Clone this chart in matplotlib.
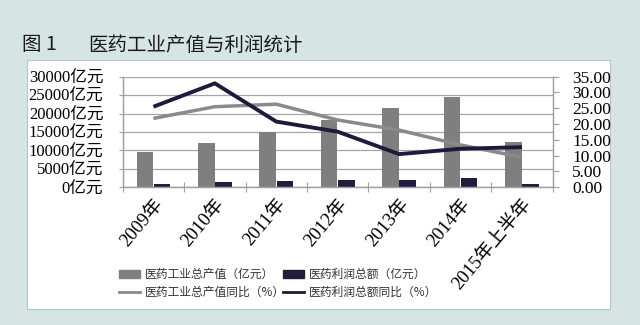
import numpy as np
import matplotlib
matplotlib.use("Agg")
import matplotlib.pyplot as plt
from matplotlib.patches import Rectangle, Patch
from matplotlib.lines import Line2D
from matplotlib.ticker import FuncFormatter

plt.rcParams['font.family'] = ['Liberation Serif', 'Noto Sans CJK SC']

years = ['2009年', '2010年', '2011年', '2012年', '2013年', '2014年', '2015年上半年']
output_value = [9500, 11930, 15000, 18250, 21420, 24400, 12370]   # 亿元
profit_total = [980, 1360, 1710, 2060, 2100, 2440, 1000]          # 亿元
output_growth = [21.8, 25.5, 26.3, 21.3, 18.1, 13.4, 9.5]         # %
profit_growth = [25.5, 32.9, 20.8, 17.6, 10.5, 12.2, 12.7]        # %

GRAY_BAR = '#7f7f7f'
DARK_BAR = '#231c3f'
GRAY_LINE = '#8a8a8a'
DARK_LINE = '#1d1b3b'
AXIS_COLOR = '#a0a0a0'

W, H = 640, 325
fig = plt.figure(figsize=(W / 100, H / 100), dpi=100, facecolor='#d6e4e4')

# white card behind the chart
fig.patches.append(Rectangle((27 / W, 1 - 309 / H), (610 - 27) / W, (309 - 60) / H,
                             transform=fig.transFigure, facecolor='white',
                             edgecolor='#b8c4c4', lw=0.8, zorder=-5))

cjk = ['Noto Sans CJK SC']
fig.text(22 / W, 1 - 45 / H, '图 1', fontsize=14, va='center', family=cjk, color='#1a1a1a')
fig.text(88 / W, 1 - 45 / H, '医药工业产值与利润统计', fontsize=14, va='center',
         family=cjk, color='#1a1a1a')

ax = fig.add_axes([122.7 / W, 1 - 187.3 / H, (552.7 - 122.7) / W, (187.3 - 76.7) / H])
ax.set_facecolor('none')
x = np.arange(len(years))
ax.bar(x - 0.14, output_value, 0.27, color=GRAY_BAR, zorder=2)
ax.bar(x + 0.14, profit_total, 0.27, color=DARK_BAR, zorder=2)
ax.set_xlim(-0.5, len(years) - 0.5)
ax.set_ylim(0, 30000)
ax.set_yticks(range(0, 30001, 5000))
ax.set_yticklabels([f'{v}亿元' for v in range(0, 30001, 5000)], fontsize=12)
ax.grid(axis='y', color='#a6a6a6', lw=0.9)
ax.set_axisbelow(True)

ax.set_xticks(np.arange(-0.5, len(years), 1))
ax.set_xticklabels([])
ax.set_xticks(x, minor=True)
ax.set_xticklabels(years, minor=True, rotation=50, ha='right', va='top',
                   rotation_mode='anchor', fontsize=13.5)
ax.tick_params(axis='x', which='major', direction='inout', length=7, color=AXIS_COLOR)
ax.tick_params(axis='x', which='minor', length=0, pad=6)
ax.tick_params(axis='y', length=3, color=AXIS_COLOR, pad=11)

ax2 = ax.twinx()
ax2.plot(x, output_growth, color=GRAY_LINE, lw=2.5, solid_capstyle='butt')
ax2.plot(x, profit_growth, color=DARK_LINE, lw=2.8, solid_capstyle='butt')
ax2.set_ylim(0, 35)
ax2.set_yticks(range(0, 36, 5))
ax2.yaxis.set_major_formatter(FuncFormatter(lambda v, p: f'{v:.2f}'))
ax2.tick_params(axis='y', length=4, color=AXIS_COLOR, labelsize=12.5, pad=10)

for a in (ax, ax2):
    a.spines['top'].set_visible(False)
    for s in ('left', 'right', 'bottom'):
        a.spines[s].set_color(AXIS_COLOR)
        a.spines[s].set_linewidth(0.9)

handles = [Patch(color=GRAY_BAR), Line2D([], [], color=GRAY_LINE, lw=2),
           Patch(color=DARK_BAR), Line2D([], [], color=DARK_LINE, lw=2)]
labels = ['医药工业总产值（亿元）', '医药工业总产值同比（%）',
          '医药利润总额（亿元）', '医药利润总额同比（%）']
fig.legend(handles, labels, ncol=2, loc='upper left',
           bbox_to_anchor=(113 / W, 1 - 262 / H), frameon=False,
           prop={'family': cjk, 'size': 8.5}, labelcolor='#333333',
           handlelength=1.8, handletextpad=0.4, columnspacing=-0.2,
           labelspacing=0.45, borderpad=0)

fig.savefig('out.png', dpi=100, facecolor=fig.get_facecolor())
